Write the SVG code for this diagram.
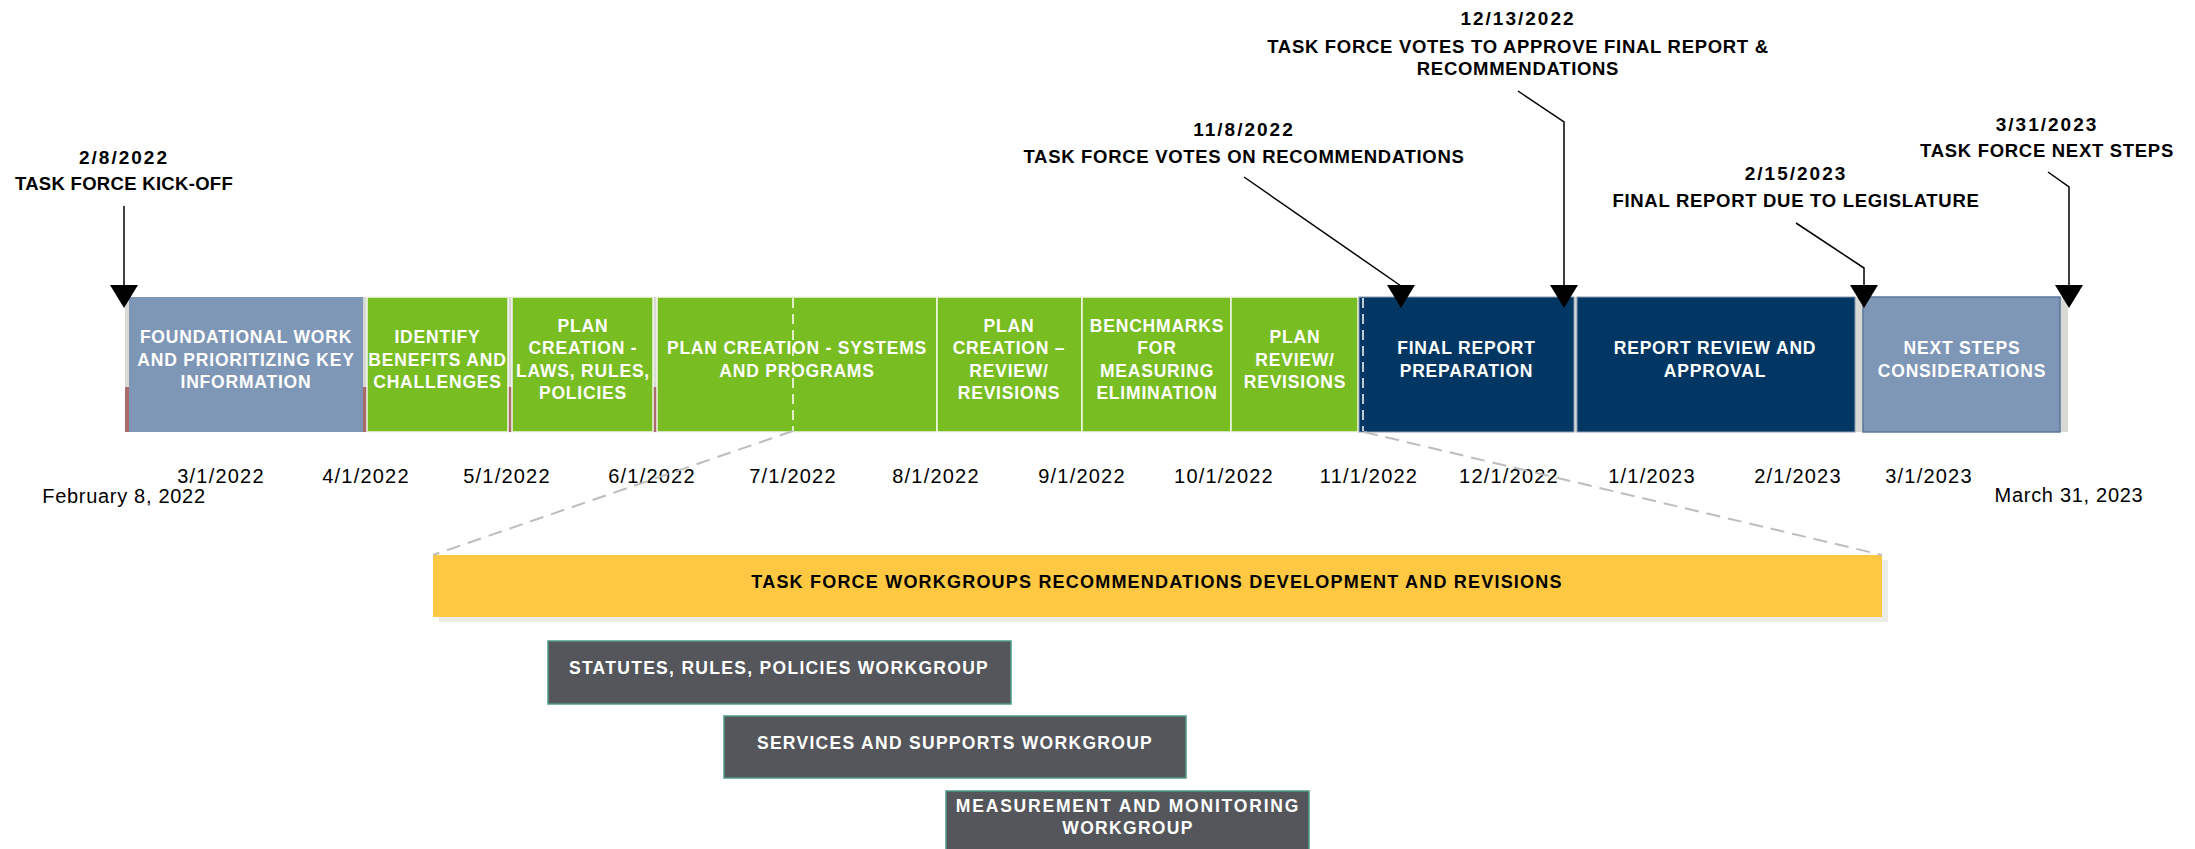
<svg xmlns="http://www.w3.org/2000/svg" xmlns:xlink="http://www.w3.org/1999/xlink" width="2195" height="849" viewBox="0 0 2195 849">
<style>
.bx{font-family:'Liberation Sans',Arial,sans-serif;font-weight:bold;font-size:17.5px;fill:#fff;text-anchor:middle;letter-spacing:0.8px}
.ax{font-family:'Liberation Sans',Arial,sans-serif;font-size:20px;fill:#000;text-anchor:middle;letter-spacing:1.2px}
.ms{font-family:'Liberation Sans',Arial,sans-serif;font-weight:bold;font-size:18.5px;fill:#000;text-anchor:middle;letter-spacing:0.7px}
.md{font-family:'Liberation Sans',Arial,sans-serif;font-weight:bold;font-size:19px;fill:#000;text-anchor:middle;letter-spacing:2px}
.wg{font-family:'Liberation Sans',Arial,sans-serif;font-weight:bold;font-size:17.5px;fill:#fff;text-anchor:middle;letter-spacing:1.3px}
.yt{font-family:'Liberation Sans',Arial,sans-serif;font-weight:bold;font-size:18px;fill:#000;text-anchor:middle;letter-spacing:1.2px}
.gr{fill:#78BD22;stroke:#F2F7EA;stroke-width:1.5}
.bg{fill:#7F97B6;stroke:#5D7699;stroke-width:1.5}
.nv{fill:#023763;stroke:#8A9BB0;stroke-width:1}
.st{fill:#D8D8D4}
.rd{fill:#A86C6C}
.wb{fill:#54565B;stroke:#4E9A88;stroke-width:1.5}
.ln{fill:none;stroke:#000;stroke-width:1.5}
.dl{fill:none;stroke:#BDBDBD;stroke-width:2;stroke-dasharray:14 8}
.wd{fill:none;stroke:#fff;stroke-width:1.5;stroke-dasharray:10 6}
</style>
<defs>
<path id="ah" d="M-14,0 L14,0 L0,23 Z" fill="#000"/>
</defs>
<rect width="2195" height="849" fill="#fff"/>

<g id="strips">
<rect class="st" x="125" y="297" width="4" height="135"/><rect class="rd" x="125" y="387" width="4" height="45"/>
<rect class="st" x="363" y="297" width="4" height="135"/><rect class="rd" x="363" y="387" width="4" height="45"/>
<rect class="st" x="508" y="297" width="4" height="135"/><rect class="rd" x="508" y="387" width="4" height="45"/>
<rect class="st" x="653" y="297" width="4" height="135"/><rect class="rd" x="653" y="387" width="4" height="45"/>
<rect class="st" x="1574" y="297" width="3" height="135"/>
<rect class="st" x="1855" y="297" width="8" height="135"/>
<rect class="st" x="2060" y="297" width="8" height="135"/>
</g>

<g id="foundational">
<rect class="bg" x="129" y="297" width="234" height="135" style="stroke:none"/>
<text class="bx" x="246" y="343">FOUNDATIONAL WORK</text>
<text class="bx" x="246" y="366">AND PRIORITIZING KEY</text>
<text class="bx" x="246" y="388">INFORMATION</text>
</g>
<g id="identify">
<rect class="gr" x="367" y="297" width="141" height="135"/>
<text class="bx" x="437.5" y="343">IDENTIFY</text>
<text class="bx" x="437.5" y="366">BENEFITS AND</text>
<text class="bx" x="437.5" y="388">CHALLENGES</text>
</g>
<g id="plan-laws">
<rect class="gr" x="512" y="297" width="141" height="135"/>
<text class="bx" x="583" y="332">PLAN</text>
<text class="bx" x="583" y="354">CREATION -</text>
<text class="bx" x="583" y="377">LAWS, RULES,</text>
<text class="bx" x="583" y="399">POLICIES</text>
</g>
<g id="plan-systems">
<rect class="gr" x="657" y="297" width="280" height="135"/>
<line class="wd" x1="793" y1="298" x2="793" y2="431"/>
<text class="bx" x="797" y="354">PLAN CREATION - SYSTEMS</text>
<text class="bx" x="797" y="377">AND PROGRAMS</text>
</g>
<g id="plan-review">
<rect class="gr" x="937" y="297" width="145" height="135"/>
<text class="bx" x="1009" y="332">PLAN</text>
<text class="bx" x="1009" y="354">CREATION –</text>
<text class="bx" x="1009" y="377">REVIEW/</text>
<text class="bx" x="1009" y="399">REVISIONS</text>
</g>
<g id="benchmarks">
<rect class="gr" x="1082" y="297" width="149" height="135"/>
<text class="bx" x="1157" y="332">BENCHMARKS</text>
<text class="bx" x="1157" y="354">FOR</text>
<text class="bx" x="1157" y="377">MEASURING</text>
<text class="bx" x="1157" y="399">ELIMINATION</text>
</g>
<g id="plan-revisions">
<rect class="gr" x="1231" y="297" width="127" height="135"/>
<text class="bx" x="1295" y="343">PLAN</text>
<text class="bx" x="1295" y="366">REVIEW/</text>
<text class="bx" x="1295" y="388">REVISIONS</text>
</g>
<g id="final-report">
<rect class="nv" x="1359" y="297" width="215" height="135"/>
<line class="wd" x1="1363" y1="298" x2="1363" y2="431"/>
<text class="bx" x="1466.5" y="354">FINAL REPORT</text>
<text class="bx" x="1466.5" y="377">PREPARATION</text>
</g>
<g id="report-review">
<rect class="nv" x="1577" y="297" width="278" height="135"/>
<text class="bx" x="1715" y="354">REPORT REVIEW AND</text>
<text class="bx" x="1715" y="377">APPROVAL</text>
</g>
<g id="next-steps">
<rect class="bg" x="1863" y="297" width="197" height="135"/>
<text class="bx" x="1962" y="354">NEXT STEPS</text>
<text class="bx" x="1962" y="377">CONSIDERATIONS</text>
</g>

<g id="axis">
<text class="ax" x="221" y="483">3/1/2022</text>
<text class="ax" x="366" y="483">4/1/2022</text>
<text class="ax" x="507" y="483">5/1/2022</text>
<text class="ax" x="652" y="483">6/1/2022</text>
<text class="ax" x="793" y="483">7/1/2022</text>
<text class="ax" x="936" y="483">8/1/2022</text>
<text class="ax" x="1082" y="483">9/1/2022</text>
<text class="ax" x="1224" y="483">10/1/2022</text>
<text class="ax" x="1369" y="483">11/1/2022</text>
<text class="ax" x="1509" y="483">12/1/2022</text>
<text class="ax" x="1652" y="483">1/1/2023</text>
<text class="ax" x="1798" y="483">2/1/2023</text>
<text class="ax" x="1929" y="483">3/1/2023</text>
<text class="ax" x="124" y="503" style="letter-spacing:0.7px">February 8, 2022</text>
<text class="ax" x="2069" y="502" style="letter-spacing:0.7px">March 31, 2023</text>
</g>

<g id="milestone-kickoff">
<text class="md" x="124" y="164">2/8/2022</text>
<text class="ms" x="124" y="190" style="letter-spacing:0.3px">TASK FORCE KICK-OFF</text>
</g>
<g id="milestone-votes">
<text class="md" x="1244" y="136">11/8/2022</text>
<text class="ms" x="1244" y="163">TASK FORCE VOTES ON RECOMMENDATIONS</text>
</g>
<g id="milestone-approve">
<text class="md" x="1518" y="25">12/13/2022</text>
<text class="ms" x="1518" y="53">TASK FORCE VOTES TO APPROVE FINAL REPORT &amp;</text>
<text class="ms" x="1518" y="75">RECOMMENDATIONS</text>
</g>
<g id="milestone-legislature">
<text class="md" x="1796" y="180">2/15/2023</text>
<text class="ms" x="1796" y="207">FINAL REPORT DUE TO LEGISLATURE</text>
</g>
<g id="milestone-nextsteps">
<text class="md" x="2047" y="131">3/31/2023</text>
<text class="ms" x="2047" y="157">TASK FORCE NEXT STEPS</text>
</g>

<g id="workgroups-bar">
<rect x="439" y="560" width="1449" height="62" fill="#EDEDE8"/>
<rect x="433" y="555" width="1449" height="62" fill="#FFC843"/>
<text class="yt" x="1157" y="588">TASK FORCE WORKGROUPS RECOMMENDATIONS DEVELOPMENT AND REVISIONS</text>
</g>
<g id="wg-statutes">
<rect class="wb" x="548" y="641" width="463" height="63"/>
<text class="wg" x="779" y="674">STATUTES, RULES, POLICIES WORKGROUP</text>
</g>
<g id="wg-services">
<rect class="wb" x="724" y="716" width="462" height="62"/>
<text class="wg" x="955" y="749">SERVICES AND SUPPORTS WORKGROUP</text>
</g>
<g id="wg-measurement">
<rect class="wb" x="946" y="791" width="363" height="64"/>
<text class="wg" x="1128" y="812" style="letter-spacing:1.8px">MEASUREMENT AND MONITORING</text>
<text class="wg" x="1128" y="834">WORKGROUP</text>
</g>

<g id="connectors">
<path class="ln" d="M124,206 V286"/>
<path class="ln" d="M1244,177 L1401,286"/>
<path class="ln" d="M1518,91 L1564,122 V286"/>
<path class="ln" d="M1796,223 L1864,268 V286"/>
<path class="ln" d="M2048,172 L2069,187 V286"/>
<use xlink:href="#ah" x="124" y="285"/>
<use xlink:href="#ah" x="1401" y="285"/>
<use xlink:href="#ah" x="1564" y="285"/>
<use xlink:href="#ah" x="1864" y="285"/>
<use xlink:href="#ah" x="2069" y="285"/>
<path class="dl" d="M793,431 L433,555"/>
<path class="dl" d="M1364,432 L1882,555"/>
</g>
</svg>
